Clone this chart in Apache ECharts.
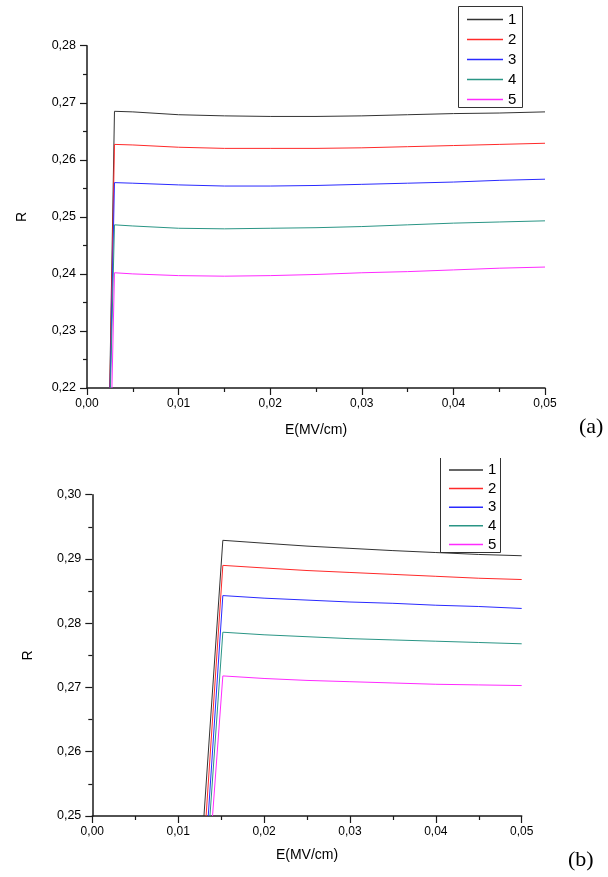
<!DOCTYPE html>
<html>
<head>
<meta charset="utf-8">
<script src="https://cdn.jsdelivr.net/npm/echarts@6/dist/echarts.min.js"></script>
<style>
html,body{margin:0;padding:0;background:#fff;}
#c{width:608px;height:877px;}
</style>
</head>
<body>
<div id="c"></div>
<script>
// ---------- DATA ----------
const names = ['1', '2', '3', '4', '5'];
const colors = ['#333333', '#ff2a2a', '#2a2aff', '#2a9585', '#ff2aff'];

// Panel (a): plateau x-values, steep-rise start (R = 0.22)
const eA = [0.003, 0.005, 0.01, 0.015, 0.02, 0.025, 0.03, 0.035, 0.04, 0.045, 0.05];
const eA0 = [0.00248, 0.00250, 0.00252, 0.00256, 0.00272];
const rA0 = 0.22;
const rA1 = [0.2685, 0.2684, 0.2679, 0.2677, 0.2676, 0.2676, 0.2677, 0.2679, 0.2681, 0.2682, 0.2684];
const rA2 = [0.2627, 0.2626, 0.2622, 0.2620, 0.2620, 0.2620, 0.2621, 0.2623, 0.2625, 0.2627, 0.2629];
const rA3 = [0.2560, 0.2559, 0.2556, 0.2554, 0.2554, 0.2555, 0.2557, 0.2559, 0.2561, 0.2564, 0.2566];
const rA4 = [0.2486, 0.2484, 0.2480, 0.2479, 0.2480, 0.2481, 0.2483, 0.2486, 0.2489, 0.2491, 0.2493];
const rA5 = [0.2402, 0.2400, 0.2397, 0.2396, 0.2397, 0.2399, 0.2402, 0.2404, 0.2407, 0.2410, 0.2412];

// Panel (b)
const eB = [0.0152, 0.02, 0.025, 0.03, 0.035, 0.04, 0.045, 0.05];
const eB0 = [0.0130, 0.01325, 0.0135, 0.0137, 0.0140];
const rB0 = 0.25;
const rB1 = [0.2929, 0.29245, 0.2920, 0.29165, 0.2913, 0.2910, 0.2907, 0.2905];
const rB2 = [0.2890, 0.2886, 0.2882, 0.2879, 0.2876, 0.2873, 0.2870, 0.2868];
const rB3 = [0.2843, 0.2839, 0.2836, 0.2833, 0.2831, 0.2828, 0.2826, 0.2823];
const rB4 = [0.2786, 0.2782, 0.2779, 0.2776, 0.2774, 0.2772, 0.2770, 0.2768];
const rB5 = [0.2718, 0.2714, 0.2711, 0.2709, 0.2707, 0.2705, 0.2704, 0.2703];

// Axis ticks
const xTicks = {min: 0, max: 0.05, interval: 0.01};
const yTicksA = {min: 0.22, max: 0.28, interval: 0.01};
const yTicksB = {min: 0.25, max: 0.30, interval: 0.01};

// ---------- BUILD ----------
const FONT = 'Liberation Sans';
const fmt = v => v.toFixed(2).replace('.', ',');

function axisCommon(fontSize, margin) {
  return {
    axisLine: {show: true, onZero: false, lineStyle: {color: '#1a1a1a', width: 1.5}},
    axisTick: {show: true, inside: false, length: 7, lineStyle: {color: '#1a1a1a', width: 1.2}},
    minorTick: {show: true, splitNumber: 2, length: 4, lineStyle: {color: '#1a1a1a', width: 1.2}},
    splitLine: {show: false},
    minorSplitLine: {show: false},
    axisLabel: {formatter: fmt, fontFamily: FONT, fontSize: fontSize, color: '#000', margin: margin}
  };
}

function buildSeries(e0, r0, e, rs, xIdx) {
  return rs.map((r, i) => ({
    name: names[i],
    type: 'line',
    xAxisIndex: xIdx,
    yAxisIndex: xIdx,
    symbol: 'none',
    smooth: false,
    clip: true,
    lineStyle: {color: colors[i], width: 1},
    itemStyle: {color: colors[i]},
    data: [[e0[i], r0]].concat(e.map((x, j) => [x, r[j]]))
  }));
}

const seriesA = buildSeries(eA0, rA0, eA, [rA1, rA2, rA3, rA4, rA5], 0);
const seriesB = buildSeries(eB0, rB0, eB, [rB1, rB2, rB3, rB4, rB5], 1);

const legendData = names.map((n, i) => ({name: n, icon: 'rect', itemStyle: {color: colors[i], borderWidth: 0}}));

const chart = echarts.init(document.getElementById('c'), null, {renderer: 'canvas'});
chart.setOption({
  animation: false,
  backgroundColor: '#fff',
  grid: [
    {left: 87, top: 45.7, width: 458, height: 342.3, containLabel: false},
    {left: 92.3, top: 494.7, width: 429.4, height: 321.3, containLabel: false}
  ],
  xAxis: [
    Object.assign({type: 'value', gridIndex: 0, name: 'E(MV/cm)', nameLocation: 'middle', nameGap: 35,
      nameTextStyle: {fontFamily: FONT, fontSize: 14, color: '#000'}}, xTicks, axisCommon(12, 10)),
    Object.assign({type: 'value', gridIndex: 1, name: 'E(MV/cm)', nameLocation: 'middle', nameGap: 32,
      nameTextStyle: {fontFamily: FONT, fontSize: 14, color: '#000'}}, xTicks, axisCommon(12, 10))
  ],
  yAxis: [
    Object.assign({type: 'value', gridIndex: 0, name: 'R', nameLocation: 'middle', nameGap: 58,
      nameTextStyle: {fontFamily: FONT, fontSize: 14, color: '#000'}}, yTicksA, axisCommon(12.5, 11)),
    Object.assign({type: 'value', gridIndex: 1, name: 'R', nameLocation: 'middle', nameGap: 57,
      nameTextStyle: {fontFamily: FONT, fontSize: 14, color: '#000'}}, yTicksB, axisCommon(12.5, 11))
  ],
  legend: [
    {orient: 'vertical', left: 467, top: 12, padding: 0, itemWidth: 36, itemHeight: 1.5, itemGap: 5,
      textStyle: {fontFamily: FONT, fontSize: 15, color: '#000'}, data: legendData, selectedMode: false},
    {orient: 'vertical', left: 449, top: 462.5, padding: 0, itemWidth: 34, itemHeight: 1.5, itemGap: 3.6,
      textStyle: {fontFamily: FONT, fontSize: 15, color: '#000'}, data: legendData, selectedMode: false}
  ],
  title: [
    {text: '(a)', left: 579, top: 416, padding: 0,
      textStyle: {fontFamily: 'Liberation Serif', fontSize: 22, fontWeight: 'normal', color: '#000'}},
    {text: '(b)', left: 568, top: 849, padding: 0,
      textStyle: {fontFamily: 'Liberation Serif', fontSize: 22, fontWeight: 'normal', color: '#000'}}
  ],
  graphic: [
    {type: 'rect', shape: {x: 458.5, y: 6.5, width: 64, height: 101}, style: {fill: 'none', stroke: '#333', lineWidth: 1}, silent: true},
    {type: 'polyline', shape: {points: [[440.5, 458], [440.5, 552.5], [500.5, 552.5], [500.5, 458]]}, style: {fill: 'none', stroke: '#333', lineWidth: 1}, silent: true}
  ],
  series: seriesA.concat(seriesB)
});
</script>
</body>
</html>
